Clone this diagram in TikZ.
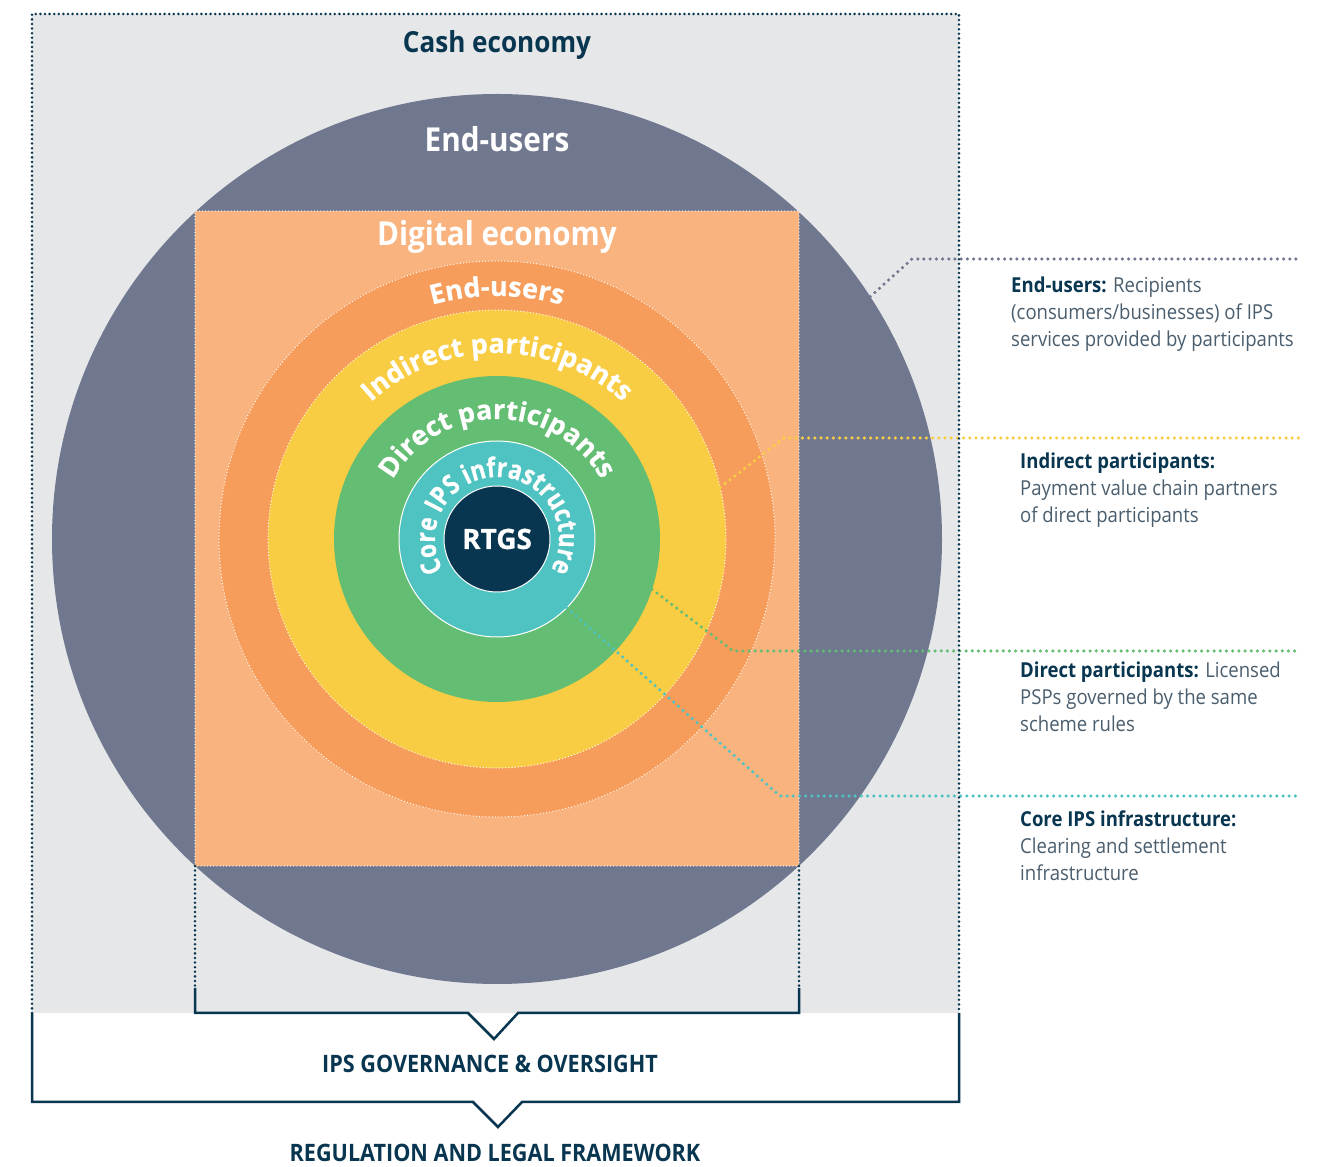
\documentclass[tikz,border=0pt]{standalone}
\usepackage{fontspec}
\setmainfont{Open Sans}
\newfontfamily\condfont{Open Sans}[FakeStretch=0.9]
\newfontfamily\heavyfont{Open Sans}[BoldFeatures={FakeBold=0.6}]
\newfontfamily\tightfont{Open Sans}[FakeStretch=0.84, BoldFeatures={FakeBold=0.6}]
\usetikzlibrary{calc,decorations.text}

\definecolor{cashgray}{HTML}{E6E7E9}
\definecolor{usergray}{HTML}{70788F}
\definecolor{digiorange}{HTML}{F9B37F}
\definecolor{ringorange}{HTML}{F79D5B}
\definecolor{ringyellow}{HTML}{F9CD43}
\definecolor{ringgreen}{HTML}{63BD72}
\definecolor{ringteal}{HTML}{4FC3C1}
\definecolor{navy}{HTML}{08354F}
\definecolor{descgray}{HTML}{4A5E6E}

\newcommand\arcfont{\heavyfont\fontsize{27}{27}\selectfont\bfseries}
\newcommand\corefont{\tightfont\fontsize{27}{27}\selectfont\bfseries}

\begin{document}
\begin{tikzpicture}[
        x=1pt, y=1pt,
        frame/.style={
            navy,
            line width=2.8pt,
            dash pattern=on 0pt off 4.6pt,
            line cap=round
        },
        bracket/.style={
            navy,
            line width=2.5pt
        },
        whitedots/.style={
            white,
            line width=1.3pt,
            dash pattern=on 0pt off 3.2pt,
            line cap=round
        },
        leader/.style={
            line width=3.5pt,
            dash pattern=on 0pt off 6.2pt,
            line cap=round
        },
        arctext/.style={
            decorate,
            decoration={
                text along path,
                text align=center,
                text color=white,
                text={#1}
            }
        },
        title/.style={
            font=\condfont\bfseries\fontsize{33}{33}\selectfont
        },
        desc/.style={
            font=\condfont\fontsize{20.6}{27}\selectfont,
            text=descgray,
            align=left,
            inner sep=0pt,
            anchor=north west
        },
        caps/.style={
            font=\condfont\bfseries\fontsize{24}{24}\selectfont,
            text=navy
        }
    ]

    \useasboundingbox (0,0) rectangle (1326,1167);
    \fill[white] (0,0) rectangle (1326,1167);

    % cash economy and the rings
    \coordinate (c) at (497,628);
    \fill[cashgray] (32,154) rectangle (959,1153);
    \fill[usergray] (c) circle[radius=445];
    \fill[digiorange] (195,301) rectangle (799,956);
    \draw[whitedots] (195,301) rectangle (799,956);
    \fill[ringorange] (c) circle[radius=278];
    \draw[whitedots] (c) circle[radius=278];
    \fill[ringyellow] (c) circle[radius=229];
    \draw[whitedots] (c) circle[radius=229];
    \fill[ringgreen] (c) circle[radius=163];
    \filldraw[ringteal, draw=white, line width=1pt] (c) circle[radius=98];
    \filldraw[navy, draw=white, line width=1pt] (c) circle[radius=53];

    \node[title, text=navy, font=\condfont\bfseries\fontsize{29}{29}\selectfont] (cash) at (497,1122) {Cash economy};
    \node[title, text=white] (enduser) at (497,1028) {End-users};
    \node[title, text=white] (digital) at (497,930) {Digital economy};
    \node[font=\heavyfont\bfseries\fontsize{28}{28}\selectfont, text=white] (rtgs) at (c) {RTGS};

    \path[arctext={|\arcfont|End-users}]
        ($(c)+(170:243)$) arc[start angle=170, end angle=10, radius=243];
    \path[arctext={|\arcfont|Indirect participants}]
        ($(c)+(175:186)$) arc[start angle=175, end angle=5, radius=186];
    \path[arctext={|\arcfont|Direct participants}]
        ($(c)+(185:120)$) arc[start angle=185, end angle=-5, radius=120];
    \path[arctext={|\corefont|Core IPS infrastructure}]
        ($(c)+(235:62)$) arc[start angle=235, end angle=-55, radius=62];

    % descriptions
    \node[desc] (eu-desc) at (1011,890)
        {\textbf{\color{navy}End-users:} Recipients\\(consumers/businesses) of IPS\\services provided by participants};
    \node[desc] (ip-desc) at (1020,714)
        {\textbf{\color{navy}Indirect participants:}\\Payment value chain partners\\of direct participants};
    \node[desc] (dp-desc) at (1020,505)
        {\textbf{\color{navy}Direct participants:} Licensed\\PSPs governed by the same\\scheme rules};
    \node[desc] (ci-desc) at (1020,356)
        {\textbf{\color{navy}Core IPS infrastructure:}\\Clearing and settlement\\infrastructure};

    % leaders
    \coordinate (eu-a) at ($(c)+(33:445)$);
    \coordinate (eu-b) at (912,908);
    \coordinate (eu-c) at (1300,908);
    \coordinate (ip-a) at ($(c)+(13:229)$);
    \coordinate (ip-b) at (784,729);
    \coordinate (ip-c) at (1300,729);
    \coordinate (dp-a) at ($(c)+(-18:163)$);
    \coordinate (dp-b) at (733,516);
    \coordinate (dp-c) at (1300,516);
    \coordinate (ci-a) at ($(c)+(-44.6:98)$);
    \coordinate (ci-b) at (780,371);
    \coordinate (ci-c) at (1300,371);

    \draw[leader, usergray] (eu-a) -- (eu-b) -- (eu-c);
    \draw[leader, ringyellow] (ip-a) -- (ip-b) -- (ip-c);
    \draw[leader, ringgreen] (dp-a) -- (dp-b) -- (dp-c);
    \draw[leader, ringteal] (ci-a) -- (ci-b) -- (ci-c);

    % frames and brackets
    \draw[frame] (32,154) -- (32,1153) -- (959,1153) -- (959,154);
    \draw[frame] (195,301) -- (195,179);
    \draw[frame] (799,301) -- (799,179);
    \draw[bracket] (195,179) -- (195,154) -- (468,154) -- (494,128)
        -- (518,154) -- (799,154) -- (799,179);
    \draw[bracket] (32,154) -- (32,65) -- (473,65) -- (498,40)
        -- (522,65) -- (959,65) -- (959,154);

    \node[caps] (gov) at (490,103) {IPS GOVERNANCE \& OVERSIGHT};
    \node[caps] (reg) at (495,14) {REGULATION AND LEGAL FRAMEWORK};

\end{tikzpicture}
\end{document}
